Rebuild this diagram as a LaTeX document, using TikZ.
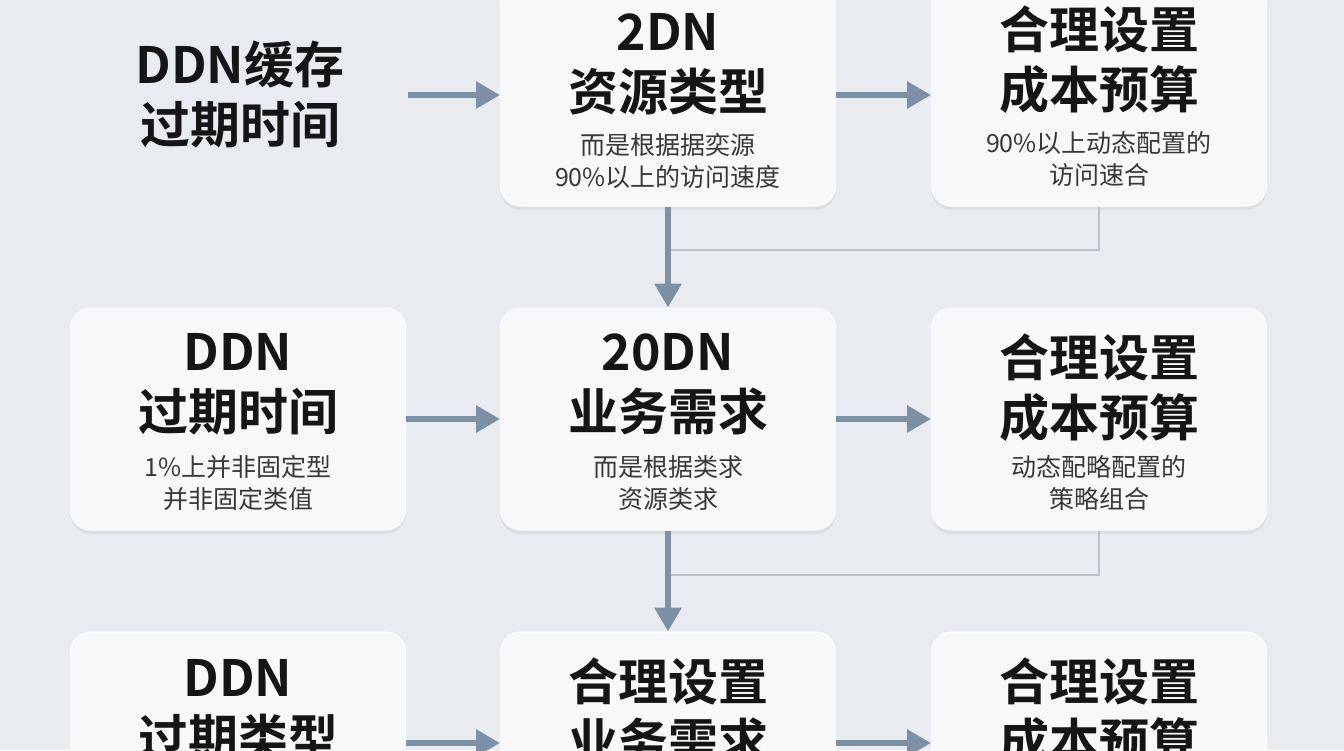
\documentclass[tikz,border=0pt]{standalone}
\usepackage{fontspec}
\setmainfont{Noto Sans CJK SC}[BoldFont={Noto Sans CJK SC Bold}]
\usetikzlibrary{arrows.meta,shadows}
\definecolor{bgc}{HTML}{E8ECF1}
\definecolor{boxc}{HTML}{F6F8FA}
\definecolor{arrc}{HTML}{7D91A6}
\definecolor{linec}{HTML}{B9C1CA}
\definecolor{txtc}{HTML}{151515}
\tikzset{
  box/.style={draw=white, line width=1pt, fill=boxc, rounded corners=20pt,
    minimum width=335pt, minimum height=222pt,
    drop shadow={shadow xshift=0pt, shadow yshift=-4pt, opacity=0.12}},
  ttl/.style={align=center, text=txtc, font=\fontsize{50}{60}\selectfont\bfseries},
  sub/.style={align=center, text=txtc!85, font=\fontsize{25}{32}\selectfont},
  arr/.style={-{Triangle[length=24pt,width=26pt]}, draw=arrc, line width=6pt},
  conn/.style={draw=linec, line width=1.5pt}
}
\begin{document}
\begin{tikzpicture}[x=1pt,y=-1pt]
\useasboundingbox (0,0) rectangle (1344,750);
\fill[bgc] (0,0) rectangle (1344,750);
\clip (0,0) rectangle (1344,750);

% row 1
\node[ttl] (t11) at (240,94) {DDN缓存\\过期时间};
\node[box] (b12) at (668,95) {};
\node[box] (b13) at (1099,95) {};
\node[ttl, anchor=north] (t12) at (668,10) {2DN\\资源类型};
\node[sub, anchor=north] (s12) at (668,130) {而是根据据奕源\\90\%以上的访问速度};
\node[ttl, anchor=north] (t13) at (1099,2) {合理设置\\成本预算};
\node[sub, anchor=north] (s13) at (1099,128) {90\%以上动态配置的\\访问速合};

% row 2
\node[box] (b21) at (238,419) {};
\node[box] (b22) at (668,419) {};
\node[box] (b23) at (1099,419) {};
\node[ttl, anchor=north] (t21) at (238,330) {DDN\\过期时间};
\node[sub, anchor=north] (s21) at (238,452) {1\%上并非固定型\\并非固定类值};
\node[ttl, anchor=north] (t22) at (668,330) {20DN\\业务需求};
\node[sub, anchor=north] (s22) at (668,452) {而是根据类求\\资源类求};
\node[ttl, anchor=north] (t23) at (1099,330) {合理设置\\成本预算};
\node[sub, anchor=north] (s23) at (1099,452) {动态配略配置的\\策略组合};

% row 3
\node[box] (b31) at (238,743) {};
\node[box] (b32) at (668,743) {};
\node[box] (b33) at (1099,743) {};
\node[ttl, anchor=north] (t31) at (238,656) {DDN\\过期类型};
\node[ttl, anchor=north] (t32) at (668,654) {合理设置\\业务需求};
\node[ttl, anchor=north] (t33) at (1099,654) {合理设置\\成本预算};

% connectors
\coordinate (j1) at (668,250);
\coordinate (j2) at (668,575);
\coordinate (a1) at (408,95);
\draw[conn] (b13.south) |- (j1);
\draw[conn] (b23.south) |- (j2);
\draw[arr] (a1) -- (b12.west);
\draw[arr] (b12.east) -- (b13.west);
\draw[arr] (b21.east) -- (b22.west);
\draw[arr] (b22.east) -- (b23.west);
\draw[arr] (b31.east) -- (b32.west);
\draw[arr] (b32.east) -- (b33.west);
\draw[arr] (b12.south) -- (b22.north);
\draw[arr] (b22.south) -- (b32.north);
\end{tikzpicture}
\end{document}
